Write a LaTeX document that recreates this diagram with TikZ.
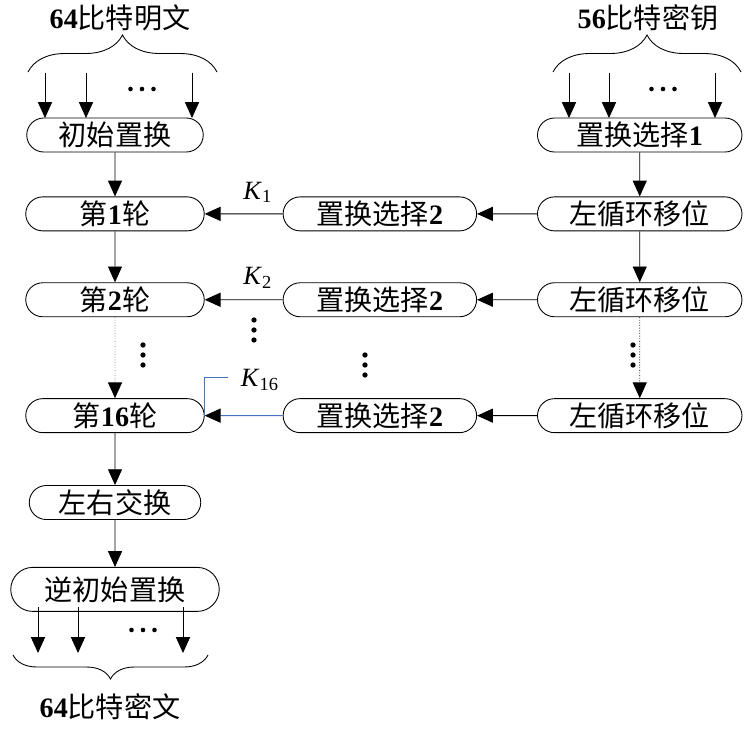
\documentclass[tikz,border=0pt]{standalone}
\usepackage{fontspec}
\setmainfont{Liberation Serif}
\newfontfamily\cjk{Noto Sans CJK SC}
\usetikzlibrary{shapes.misc, arrows.meta, positioning, decorations.pathreplacing}
\definecolor{keyblue}{RGB}{68,114,196}
\newcommand{\zh}[1]{{\cjk #1}}

\begin{document}
\begin{tikzpicture}[
    font=\fontsize{16}{19}\selectfont,
    line width=0.5pt,
    box/.style={draw, rounded rectangle, minimum width=3.64cm, minimum height=0.68cm, inner sep=1pt},
    arrow/.style={-{Triangle[length=9pt, width=8pt, color=black]}},
    brace/.style={decorate, decoration={brace, amplitude=#1}},
    klabel/.style={font=\fontsize{15}{18}\selectfont, inner sep=2pt}
]
\useasboundingbox (0,0) rectangle (15.04,-14.6);

% left column: data path
\node[box, minimum width=3.6cm] (init) at (2.3,-2.7) {\zh{初始置换}};
\node[box, below=0.88cm of init] (r1) {\zh{第}\textbf{1}\zh{轮}};
\node[box, below=1.02cm of r1] (r2) {\zh{第}\textbf{2}\zh{轮}};
\node[box, below=1.62cm of r2] (r16) {\zh{第}\textbf{16}\zh{轮}};
\node[box, minimum width=3.5cm, below=1.04cm of r16] (swap) {\zh{左右交换}};
\node[box, minimum width=4.24cm, minimum height=0.88cm, below=0.94cm of swap] (fp) {\zh{逆初始置换}};

% right columns: key schedule
\node[box, minimum width=3.94cm, right=1.56cm of r1] (pc1) {\zh{置换选择}\textbf{2}};
\node[box, minimum width=4.16cm, right=1.2cm of pc1] (ls1) {\zh{左循环移位}};
\node[box, minimum width=4.16cm, above=0.88cm of ls1] (pc0) {\zh{置换选择}\textbf{1}};
\node[box, minimum width=3.94cm, right=1.56cm of r2] (pc2) {\zh{置换选择}\textbf{2}};
\node[box, minimum width=4.16cm, right=1.2cm of pc2] (ls2) {\zh{左循环移位}};
\node[box, minimum width=3.94cm, right=1.56cm of r16] (pc16) {\zh{置换选择}\textbf{2}};
\node[box, minimum width=4.16cm, right=1.2cm of pc16] (ls16) {\zh{左循环移位}};

% inputs and output
\node (pt) at (2.4,-0.36) {\textbf{64}\zh{比特明文}};
\node (key) at (12.96,-0.36) {\textbf{56}\zh{比特密钥}};
\node (ct) at (2.2,-14.14) {\textbf{64}\zh{比特密文}};

\draw[brace=0.74cm] (0.56,-1.44) -- (4.34,-1.44);
\draw[brace=0.74cm] (11.06,-1.44) -- (14.82,-1.44);
\draw[brace=0.48cm] (4.16,-13.1) -- (0.26,-13.1);

\foreach \x in {0.9,1.72,3.84}
    \draw[arrow] (\x,-1.46) -- ++(0,-0.9);
\foreach \x in {11.38,12.18,14.3}
    \draw[arrow] (\x,-1.46) -- ++(0,-0.9);
\foreach \x in {0.76,1.56,3.66}
    \draw[arrow] (\x,-12.14) -- ++(0,-0.92);

% dots
\foreach \x in {-0.23,0,0.23} {
    \fill (2.84+\x,-1.78) circle (1.3pt);
    \fill (13.26+\x,-1.78) circle (1.3pt);
    \fill (2.86+\x,-12.6) circle (1.3pt);
}
\foreach \y in {-0.2,0,0.2} {
    \fill (5.08,-6.6+\y) circle (1.5pt);
    \fill (7.3,-7.3+\y) circle (1.5pt);
    \fill (2.86,-7.1+\y) circle (1.5pt);
    \fill (12.66,-7.1+\y) circle (1.5pt);
}

% connectors
\draw[arrow] (init) -- (r1);
\draw[arrow] (r1) -- (r2);
\draw[arrow, densely dotted, draw=gray] (r2) -- (r16);
\draw[arrow] (r16) -- (swap);
\draw[arrow] (swap) -- (fp);

\draw[arrow] (pc0) -- (ls1);
\draw[arrow] (ls1) -- (ls2);
\draw[arrow, densely dotted] (ls2) -- (ls16);

\draw[arrow] (ls1) -- (pc1);
\draw[arrow] (ls2) -- (pc2);
\draw[arrow] (ls16) -- (pc16);
\draw[arrow] (pc1) -- node[klabel, pos=0.32, above=4pt] (k1) {\textit{K}\textsubscript{1}} (r1);
\draw[arrow] (pc2) -- node[klabel, pos=0.32, above=4pt] (k2) {\textit{K}\textsubscript{2}} (r2);
\draw[arrow, draw=keyblue] (pc16) -- (r16);

\node[klabel] (k16) at (5.2,-7.6) {\textit{K}\textsubscript{16}};
\draw[keyblue] ([xshift=-5pt]k16.west |- 0,-7.54) -| (r16.east);

\end{tikzpicture}
\end{document}
